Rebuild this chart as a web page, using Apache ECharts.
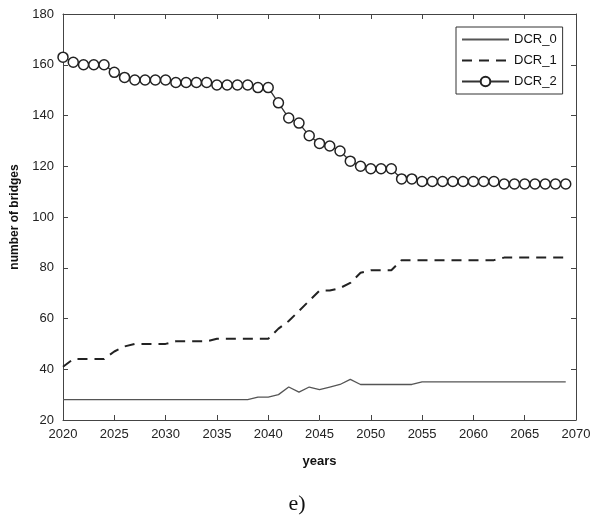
<!DOCTYPE html>
<html>
<head>
<meta charset="utf-8">
<script src="https://cdn.jsdelivr.net/npm/echarts@6/dist/echarts.min.js"></script>
<style>
  html, body { margin: 0; padding: 0; background: #fff; }
  #chart { width: 594px; height: 521px; }
</style>
</head>
<body>
<div id="chart"></div>
<script>
// years 2020 .. 2069
var years = [];
for (var y = 2020; y <= 2069; y++) years.push(y);

var dcr0 = [28, 28, 28, 28, 28, 28, 28, 28, 28, 28,
            28, 28, 28, 28, 28, 28, 28, 28, 28, 29,
            29, 30, 33, 31, 33, 32, 33, 34, 36, 34,
            34, 34, 34, 34, 34, 35, 35, 35, 35, 35,
            35, 35, 35, 35, 35, 35, 35, 35, 35, 35];
var dcr1 = [41, 44, 44, 44, 44, 47, 49, 50, 50, 50,
            50, 51, 51, 51, 51, 52, 52, 52, 52, 52,
            52, 56, 59, 63, 67, 71, 71, 72, 74, 78,
            79, 79, 79, 83, 83, 83, 83, 83, 83, 83,
            83, 83, 83, 84, 84, 84, 84, 84, 84, 84];
var dcr2 = [163, 161, 160, 160, 160, 157, 155, 154, 154, 154,
            154, 153, 153, 153, 153, 152, 152, 152, 152, 151,
            151, 145, 139, 137, 132, 129, 128, 126, 122, 120,
            119, 119, 119, 115, 115, 114, 114, 114, 114, 114,
            114, 114, 114, 113, 113, 113, 113, 113, 113, 113];
var seriesNames = ['DCR_0', 'DCR_1', 'DCR_2'];

function pairs(vals) {
    var out = [];
    for (var i = 0; i < vals.length; i++) out.push([years[i], vals[i]]);
    return out;
}

var font = 'Liberation Sans, Arial, sans-serif';
var axisColor = '#444';

var xBase = {
    type: 'value', min: 2020, max: 2070, interval: 5,
    axisLine: { show: true, onZero: false, lineStyle: { color: axisColor, width: 1 } },
    axisTick: { show: true, inside: true, length: 5, lineStyle: { color: axisColor } },
    splitLine: { show: false }
};
var yBase = {
    type: 'value', min: 20, max: 180, interval: 20,
    axisLine: { show: true, onZero: false, lineStyle: { color: axisColor, width: 1 } },
    axisTick: { show: true, inside: true, length: 5, lineStyle: { color: axisColor } },
    splitLine: { show: false }
};

var chart = echarts.init(document.getElementById('chart'));
var option = {
    animation: false,
    backgroundColor: '#fff',
    grid: { left: 63, top: 14, width: 513, height: 406 },
    xAxis: [
        Object.assign({}, xBase, {
            position: 'bottom',
            axisLabel: {
                color: '#222', fontSize: 13, fontFamily: font, margin: 8,
                formatter: function (v) { return String(v); }
            },
            name: 'years', nameLocation: 'middle', nameGap: 35,
            nameTextStyle: { color: '#111', fontSize: 13, fontWeight: 'bold', fontFamily: font }
        }),
        Object.assign({}, xBase, { position: 'top', axisLabel: { show: false } })
    ],
    yAxis: [
        Object.assign({}, yBase, {
            position: 'left',
            axisLabel: { color: '#222', fontSize: 13, fontFamily: font, margin: 9 },
            name: 'number of bridges', nameLocation: 'middle', nameGap: 42,
            nameTextStyle: { color: '#111', fontSize: 12, fontWeight: 'bold', fontFamily: font }
        }),
        Object.assign({}, yBase, { position: 'right', axisLabel: { show: false } })
    ],
    legend: {
        orient: 'vertical',
        left: 456, top: 27,
        width: 110,
        padding: [6, 6, 6, 5],
        itemGap: 8,
        itemWidth: 47,
        itemHeight: 12,
        backgroundColor: '#fff',
        borderColor: '#333',
        borderWidth: 1,
        textStyle: { color: '#111', fontSize: 13, fontFamily: font, padding: [0, 8, 0, 0] },
        data: [
            { name: seriesNames[0], itemStyle: { opacity: 0 } },
            { name: seriesNames[1], itemStyle: { opacity: 0 } },
            { name: seriesNames[2] }
        ]
    },
    title: {
        text: 'e)',
        left: 'center',
        top: 488,
        textStyle: { color: '#111', fontSize: 22, fontWeight: 'normal', fontFamily: 'Liberation Serif, Times New Roman, serif' }
    },
    series: [
        {
            name: seriesNames[0], type: 'line', symbol: 'none',
            lineStyle: { color: '#555', width: 1.3 },
            itemStyle: { color: '#555' },
            data: pairs(dcr0)
        },
        {
            name: seriesNames[1], type: 'line', symbol: 'none',
            lineStyle: { color: '#222', width: 2, type: [10, 7] },
            itemStyle: { color: '#222' },
            data: pairs(dcr1)
        },
        {
            name: seriesNames[2], type: 'line', symbol: 'circle', symbolSize: 10,
            lineStyle: { color: '#333', width: 1.3 },
            itemStyle: { color: '#fff', borderColor: '#222', borderWidth: 1.5 },
            data: pairs(dcr2)
        }
    ]
};
chart.setOption(option);
</script>
</body>
</html>
